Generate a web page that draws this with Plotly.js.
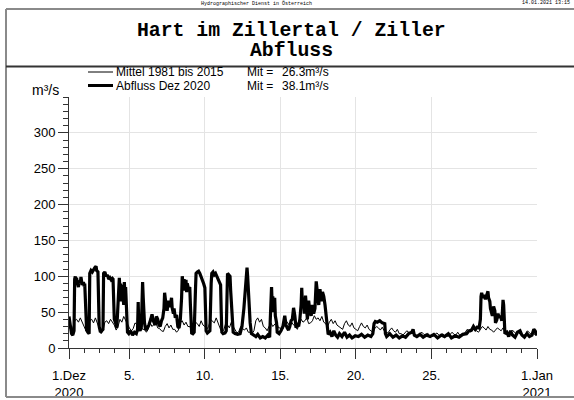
<!DOCTYPE html>
<html>
<head>
<meta charset="utf-8">
<script src="https://cdn.plot.ly/plotly-3.0.1.min.js"></script>
<style>
  html, body { margin: 0; padding: 0; background: #fff; }
  #chart { width: 574px; height: 400px; }
</style>
</head>
<body>
<div id="chart"></div>
<script>
// Discharge at gauge Hart im Zillertal / Ziller, December 2020
const monthStart = Date.UTC(2020, 11, 1);

// Long-term mean 1981-2015: hours since 1 Dec 00:00 and discharge in m³/s
const meanHours = [
  0,3,6,9,12,15,18,21, 24,27,30,33,36,39,42,45, 48,51,54,57,60,63,66,69,
  72,75,78,81,84,87,90,93, 96,99,102,105,108,111,114,117, 120,123,126,129,132,135,138,141,
  144,147,150,153,156,159,162,165, 168,171,174,177,180,183,186,189, 192,195,198,201,204,207,210,213,
  216,219,222,225,228,231,234,237, 240,243,246,249,252,255,258,261, 264,267,270,273,276,279,282,285,
  288,291,294,297,300,303,306,309, 312,315,318,321,324,327,330,333, 336,339,342,345,348,351,354,357,
  360,363,366,369,372,375,378,381, 384,387,390,393,396,399,402,405, 408,411,414,417,420,423,426,429,
  432,435,438,441,444,447,450,453, 456,459,462,465,468,471,474,477, 480,483,486,489,492,495,498,501,
  504,507,510,513,516,519,522,525, 528,531,534,537,540,543,546,549, 552,555,558,561,564,567,570,573,
  576,579,582,585,588,591,594,597, 600,603,606,609,612,615,618,621, 624,627,630,633,636,639,642,645,
  648,651,654,657,660,663,666,669, 672,675,678,681,684,687,690,693, 696,699,702,705,708,711,714,717,
  720,723,726,729,732,735,738,741,744
];
const meanFlow = [
  30,25,28,38,40,36,42,35, 30,24,26,38,40,35,42,34, 28,20,24,36,38,34,40,36,
  32,25,30,40,36,44,38,34, 28,24,27,35,32,30,34,26, 26,22,26,35,30,33,36,28,
  27,24,23,30,34,28,32,26, 26,22,25,35,38,32,36,30, 30,24,28,36,34,30,38,32,
  30,26,30,40,38,35,42,34, 28,22,25,34,32,28,36,30, 25,21,23,30,27,25,28,22,
  22,20,24,38,42,36,40,30, 28,24,30,35,30,33,36,28, 28,25,30,38,35,30,36,32,
  30,26,34,40,36,38,42,34, 35,38,45,40,42,38,44,36, 34,30,36,40,34,38,32,30,
  28,26,34,38,32,30,35,28, 26,24,30,35,30,28,32,26, 24,22,27,30,28,25,29,24,
  22,21,25,28,24,22,26,20, 20,18,21,24,22,20,23,19, 18,17,20,22,19,18,21,17,
  17,16,19,21,18,17,20,17, 17,16,19,22,19,18,22,18, 19,18,22,26,24,22,27,24,
  24,22,26,30,28,25,30,26, 25,22,25,28,26,24,28,23, 22,19,22,25,22,20,23,19,
  19,17,20,24,21,19,22,18,18
];

// Observed discharge December 2020: hours since 1 Dec 00:00 and discharge in m³/s
const flowHours = [
  0,2,4,6,8,9,10,11,12,13,15,16,18,19,20,21,23,24,25,26,27,28,30,32,
  33,35,37,39,41,43,44,46,47,48,50,52,54,
  55,57,59,61,63,65,67,69,70,71,72,74,76,77,78,80,81,82,83,84,86,87,88,89,90,91,92,93,95,
  98,101,104,107,109,110,111,113,115,116,117,118,119,120,122,124,127,130,132,134,137,139,141,143,145,147,149,
  151,152,154,156,158,159,161,163,164,166,167,169,171,173,175,177,
  179,180,181,182,183,184,186,187,188,190,192,193,194,195,197,199,
  201,202,204,206,208,210,212,214,216,217,218,220,222,224,
  226,227,229,231,233,235,237,239,241,242,243,245,248,250,
  251,252,254,256,257,258,259,260,261,264,268,272,275,278,281,283,284,286,288,290,293,297,300,304,308,312,316,319,
  320,322,323,324,325,327,328,330,331,334,337,340,343,345,347,349,351,353,355,357,359,361,363,365,367,369,
  370,371,373,374,376,377,379,381,383,385,387,389,391,393,394,396,397,399,401,403,405,407,409,411,412,
  415,418,421,424,427,430,434,438,442,446,450,455,460,465,470,475,480,483,485,487,490,494,498,502,503,505,
  510,515,520,525,530,535,540,545,547,549,553,558,563,568,574,580,586,592,597,603,608,614,620,626,632,636,
  640,643,646,649,652,654,655,656,658,660,662,664,666,667,669,670,672,673,675,677,678,680,682,684,686,688,
  689,690,691,692,693,696,699,702,705,709,713,717,720,724,728,732,736,739,741,744
];
const flowValues = [
  44,30,20,18,24,96,100,90,98,92,85,94,90,99,95,88,92,86,90,60,30,25,22,20,
  104,108,106,110,112,114,108,106,60,30,22,24,26,
  104,106,100,102,96,98,95,97,96,60,40,35,28,45,60,98,80,90,65,88,70,60,92,70,85,55,35,22,20,
  24,18,22,20,26,64,28,24,30,60,92,70,45,35,25,28,32,40,47,38,32,44,40,32,30,38,42,
  55,77,62,52,66,60,58,70,56,48,55,42,46,30,28,40,
  70,100,92,85,96,80,95,78,90,82,85,60,30,21,20,22,
  80,104,106,107,104,100,96,90,84,50,24,21,22,24,
  90,104,106,102,104,100,98,92,88,50,22,20,21,24,
  80,104,102,100,80,60,50,35,22,20,19,20,30,55,95,112,100,65,35,20,18,16,19,14,16,14,18,15,
  40,85,60,72,50,70,45,35,22,20,24,30,45,32,28,25,30,38,40,56,45,28,35,30,40,60,
  84,62,70,48,73,55,40,66,50,45,60,48,55,93,85,78,60,82,65,78,72,60,45,25,19,
  22,16,24,18,15,20,16,22,15,18,14,17,16,19,15,18,16,20,34,37,36,38,35,34,20,16,
  20,15,18,14,17,15,20,22,26,18,16,19,15,18,16,19,14,18,16,20,14,17,15,19,20,24,
  25,30,26,29,28,40,72,77,70,74,68,76,79,70,65,55,50,45,58,52,35,39,48,42,45,38,
  50,67,60,30,20,22,16,24,18,15,22,24,18,15,20,16,18,26,24,18
];

// Axis ticks
const dayTickVals = ['2020-12-01', '2020-12-05', '2020-12-10', '2020-12-15',
                     '2020-12-20', '2020-12-25', '2021-01-01'];
const dayTickText = ['1.Dez<br>2020', '5.', '10.', '15.', '20.', '25.', '1.Jan<br>2021'];
const flowTickVals = [0, 50, 100, 150, 200, 250, 300];

// Legend entries and monthly means
const seriesNames = ['Mittel 1981 bis 2015', 'Abfluss Dez 2020'];
const seriesMeans = ['26.3m³/s', '38.1m³/s'];

const toTime = h => monthStart + h * 3600000;

// Plot area in pixels, used to place the frame and texts around it
const PL = 69, PR = 537, PT = 97, PB = 348;
const px = x => (x - PL) / (PR - PL);
const py = y => (PB - y) / (PB - PT);

const traces = [
  {
    x: flowHours.map(toTime), y: flowValues, type: 'scatter', mode: 'lines',
    line: { color: '#000', width: 3.2, shape: 'linear' }, name: seriesNames[1],
    hoverinfo: 'skip'
  },
  {
    x: meanHours.map(toTime), y: meanFlow, type: 'scatter', mode: 'lines',
    line: { color: '#000', width: 1 }, name: seriesNames[0],
    hoverinfo: 'skip'
  }
];

const sans = 'Liberation Sans, Arial, sans-serif';
const mono = 'Liberation Mono, Courier New, monospace';

function note(text, x, y, size, family, xanchor) {
  return {
    text: text, xref: 'paper', yref: 'paper', x: px(x), y: py(y),
    xanchor: xanchor || 'left', yanchor: 'middle', showarrow: false, borderpad: 0,
    font: { family: family || sans, size: size || 12, color: '#000' }
  };
}

const frame = { color: '#8a8a8a', width: 2 };
const rowTop = 72, rowBottom = 85.5;
const shapes = [
  { type: 'line', xref: 'paper', yref: 'paper', x0: px(6), x1: px(6), y0: py(9), y1: py(397), line: frame },
  { type: 'line', xref: 'paper', yref: 'paper', x0: px(6), x1: px(580), y0: py(9), y1: py(9), line: frame },
  { type: 'line', xref: 'paper', yref: 'paper', x0: px(6), x1: px(580), y0: py(397), y1: py(397), line: frame },
  { type: 'line', xref: 'paper', yref: 'paper', x0: px(6), x1: px(580), y0: py(66.5), y1: py(66.5),
    line: { color: '#333', width: 2 } },
  // legend samples
  { type: 'line', xref: 'paper', yref: 'paper', x0: px(88), x1: px(113), y0: py(rowTop), y1: py(rowTop),
    line: { color: '#000', width: 1 } },
  { type: 'line', xref: 'paper', yref: 'paper', x0: px(88), x1: px(113), y0: py(rowBottom), y1: py(rowBottom),
    line: { color: '#000', width: 3 } }
];

const annotations = [
  note('Hydrographischer Dienst in Österreich', 256, 3, 5, mono, 'center'),
  note('14.01.2021 13:15', 521, 3, 5, mono, 'left'),
  note('<b>Hart im Zillertal / Ziller</b>', 291, 31, 19.8, mono, 'center'),
  note('<b>Abfluss</b>', 291, 51, 19.8, mono, 'center'),
  note(seriesNames[0], 115, rowTop),
  note(seriesNames[1], 115, rowBottom),
  note('Mit =', 246, rowTop),
  note('Mit =', 246, rowBottom),
  note(seriesMeans[0], 281, rowTop),
  note(seriesMeans[1], 281, rowBottom),
  note('m³/s', 45, 90, 14, sans, 'center')
];

const tickFont = { family: sans, size: 13, color: '#000' };

const layout = {
  width: 574, height: 400,
  margin: { l: PL, r: 574 - PR, t: PT, b: 400 - PB, pad: 0 },
  paper_bgcolor: '#fff', plot_bgcolor: '#fff',
  showlegend: false,
  xaxis: {
    type: 'date', range: ['2020-12-01', '2021-01-01'],
    tickmode: 'array', tickvals: dayTickVals, ticktext: dayTickText,
    ticks: 'outside', ticklen: 10, tickwidth: 1, tickcolor: '#333',
    ticklabelstandoff: 5,
    showline: true, linecolor: '#333', linewidth: 1,
    showgrid: true, gridcolor: '#e4e4e4', gridwidth: 1.2,
    zeroline: false, tickfont: tickFont,
    minor: { ticks: 'outside', dtick: 86400000, tick0: '2020-12-01', ticklen: 4,
             tickcolor: '#333', tickwidth: 1, showgrid: false }
  },
  yaxis: {
    range: [0, 350], tickmode: 'array', tickvals: flowTickVals,
    ticks: 'outside', ticklen: 10, tickwidth: 1, tickcolor: '#333',
    showline: true, linecolor: '#333', linewidth: 1,
    showgrid: true, gridcolor: '#e4e4e4', gridwidth: 1.2,
    zeroline: false, tickfont: tickFont,
    minor: { ticks: 'outside', dtick: 10, tick0: 0, ticklen: 5,
             tickcolor: '#333', tickwidth: 1, showgrid: false }
  },
  shapes: shapes,
  annotations: annotations
};

Plotly.newPlot('chart', traces, layout, { staticPlot: true, displayModeBar: false });
</script>
</body>
</html>
